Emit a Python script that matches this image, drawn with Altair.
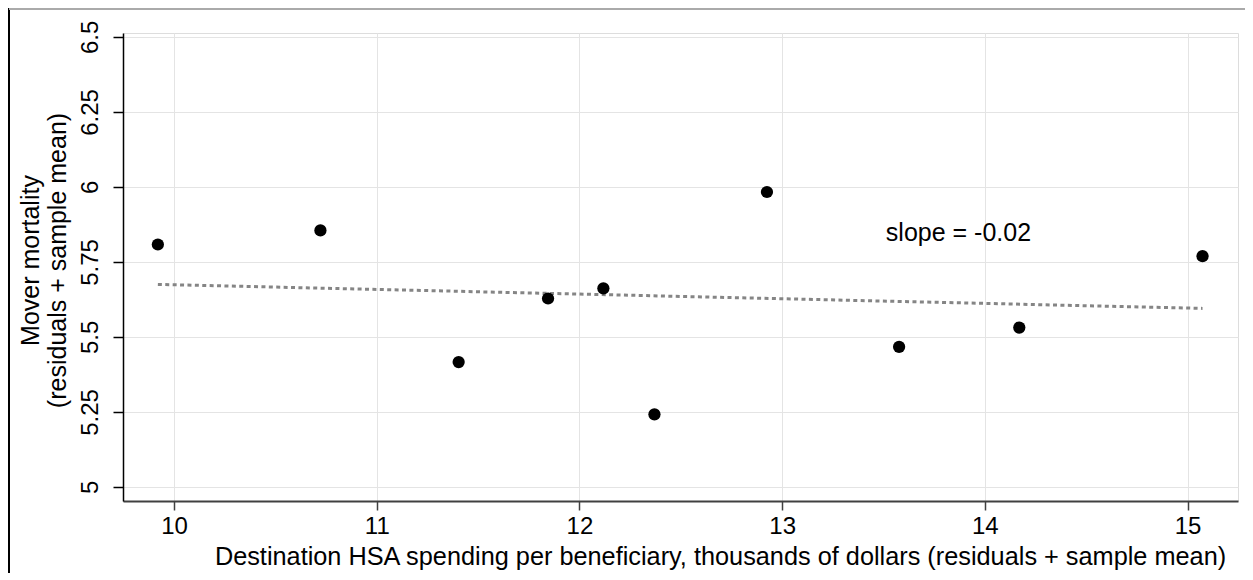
import altair as alt
import pandas as pd

# data
spend = [9.92, 10.722, 11.404, 11.845, 12.118, 12.37, 12.925, 13.577, 14.170, 15.074]
mortality = [5.808, 5.855, 5.416, 5.628, 5.662, 5.242, 5.983, 5.467, 5.531, 5.769]
fit_x = [9.92, 15.074]
fit_y = [5.675, 5.595]
x_ticks = [10, 11, 12, 13, 14, 15]
y_ticks = [5, 5.25, 5.5, 5.75, 6, 6.25, 6.5]
note_text = ["slope = -0.02"]
note_x = [13.87]
note_y = [5.847]

FONT = "Liberation Sans"
LFS = 24
TFS = 25.3

pts = pd.DataFrame({"x": spend, "y": mortality})
fit = pd.DataFrame({"x": fit_x, "y": fit_y})
note = pd.DataFrame({"x": note_x, "y": note_y, "t": note_text})

xs = alt.Scale(domain=[9.748, 15.249], nice=False, zero=False)
ys = alt.Scale(domain=[4.953, 6.513], nice=False, zero=False)

x_axis = alt.Axis(
    values=x_ticks, format="d", grid=True, gridColor="#e4e4e4", gridWidth=1,
    domainColor="#404040", domainWidth=2, tickColor="#404040", tickWidth=1.5, tickSize=9,
    labelFont=FONT, labelFontSize=LFS, labelColor="black", labelPadding=4,
    title="Destination HSA spending per beneficiary, thousands of dollars (residuals + sample mean)",
    titleFont=FONT, titleFontSize=TFS, titleFontWeight="normal", titleColor="black",
    titlePadding=6, titleX=597, titleAlign="center",
)
y_axis = alt.Axis(
    values=y_ticks, format=".2~f", grid=True, gridColor="#e4e4e4", gridWidth=1,
    domainColor="black", domainWidth=1.5, tickColor="black", tickWidth=1.5, tickSize=10,
    labelFont=FONT, labelFontSize=LFS, labelColor="black", labelAngle=-90,
    labelAlign="center", labelBaseline="bottom", labelPadding=11,
    title=["Mover mortality", "(residuals + sample mean)"],
    titleFont=FONT, titleFontSize=25, titleFontWeight="normal", titleColor="black",
    titlePadding=8, titleLineHeight=27, titleY=227, titleAlign="center",
)

base = alt.Chart(pts)

points = base.mark_circle(size=150, color="black", opacity=1).encode(
    x=alt.X("x:Q", scale=xs, axis=x_axis),
    y=alt.Y("y:Q", scale=ys, axis=y_axis),
)

line = alt.Chart(fit).mark_line(color="#858585", strokeWidth=3, strokeDash=[4, 3.4]).encode(
    x=alt.X("x:Q", scale=xs),
    y=alt.Y("y:Q", scale=ys),
)

text = alt.Chart(note).mark_text(font=FONT, fontSize=25, color="black", align="center", baseline="middle").encode(
    x=alt.X("x:Q", scale=xs),
    y=alt.Y("y:Q", scale=ys),
    text="t:N",
)

frame_left = alt.Chart(pts).mark_rule(color="black", strokeWidth=2).encode(
    x=alt.value(-114), y=alt.value(-25), y2=alt.value(540)
)
frame_top = alt.Chart(pts).mark_rule(color="#aaaaaa", strokeWidth=2).encode(
    x=alt.value(-114), x2=alt.value(1122), y=alt.value(-24)
)

chart = alt.layer(line, points, text, frame_left, frame_top).properties(
    width=1115, height=468,
    autosize=alt.AutoSizeParams(type="none"),
    padding={"left": 115, "top": 25, "right": 7, "bottom": 72},
).configure_view(stroke=None).configure(background="white")

chart.save("out.html", embed_options={"renderer": "svg", "actions": False})
